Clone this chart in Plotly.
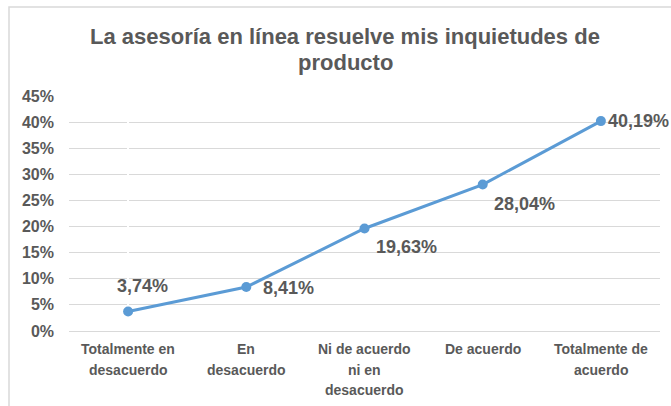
import plotly.graph_objects as go

categories = [
    "Totalmente en<br>desacuerdo",
    "En<br>desacuerdo",
    "Ni de acuerdo<br>ni en<br>desacuerdo",
    "De acuerdo",
    "Totalmente de<br>acuerdo",
]
values = [3.74, 8.41, 19.63, 28.04, 40.19]
y_ticks = [0, 5, 10, 15, 20, 25, 30, 35, 40, 45]
y_tick_text = [f"{t}%" for t in y_ticks]
title_lines = ["La asesoría en línea resuelve mis inquietudes de", "producto"]

# label offsets (px) relative to each point
label_shifts = [(14, 25), (42, -1), (42, -19), (42, -19), (38, 0)]

GRAY = "#595959"
BLUE = "#5B9BD5"
FONT = "Liberation Sans, Arial, sans-serif"

W, H = 671, 406
L, R, T, B = 69, 11, 96, 75
pw, ph = W - L - R, H - T - B


def py(ypx):
    """Vertical pixel position (from top) to paper coordinate."""
    return (H - ypx - B) / ph


fig = go.Figure()
fig.add_trace(go.Scatter(
    x=list(range(len(categories))),
    y=values,
    mode="lines+markers",
    line=dict(color=BLUE, width=3),
    marker=dict(color=BLUE, size=10),
    hoverinfo="skip",
    cliponaxis=False,
))

# data labels
for i, (v, (dx, dy)) in enumerate(zip(values, label_shifts)):
    fig.add_annotation(
        x=i, y=v, xref="x", yref="y",
        text=f"<b>{v:.2f}%</b>".replace(".", ","),
        showarrow=False, xshift=dx, yshift=dy,
        font=dict(family=FONT, size=18, color=GRAY),
    )

# two-line chart title
for line, ypx in zip(title_lines, [37, 62]):
    fig.add_annotation(
        x=(345 - L) / pw, y=py(ypx), xref="paper", yref="paper",
        text=f"<b>{line}</b>", showarrow=False,
        xanchor="center", yanchor="middle",
        font=dict(family=FONT, size=22, color=GRAY),
    )

# category labels, one line at a time for wider line spacing
for i, cat in enumerate(categories):
    for j, part in enumerate(cat.split("<br>")):
        fig.add_annotation(
            x=i, y=py(349 + 20.5 * j), xref="x", yref="paper",
            text=f"<b>{part}</b>", showarrow=False,
            xanchor="center", yanchor="middle",
            font=dict(family=FONT, size=14, color=GRAY),
        )

fig.update_layout(
    width=W, height=H,
    margin=dict(l=L, r=R, t=T, b=B),
    paper_bgcolor="white", plot_bgcolor="white",
    showlegend=False,
    font=dict(family=FONT, color=GRAY),
)

fig.update_xaxes(
    range=[-0.5, len(categories) - 0.5],
    showticklabels=False,
    showgrid=False, showline=True, linecolor="#D9D9D9", linewidth=1,
    ticks="", automargin=False,
)
fig.update_yaxes(
    range=[0, 45], tickvals=y_ticks, ticktext=[f"<b>{t}</b>" for t in y_tick_text],
    showgrid=True, gridcolor="#D9D9D9", gridwidth=1,
    zeroline=False, showline=False, ticks="", ticklabelstandoff=14,
    automargin=False,
    tickfont=dict(family=FONT, size=16, color=GRAY),
)

# chart area border
fig.add_shape(
    type="rect", xref="paper", yref="paper",
    x0=(9 - L) / pw, x1=(W + 20 - L) / pw,
    y0=py(H + 20), y1=py(7),
    line=dict(color="#D9D9D9", width=1.5), fillcolor="rgba(0,0,0,0)",
    layer="below",
)

fig.write_html("out.html")
